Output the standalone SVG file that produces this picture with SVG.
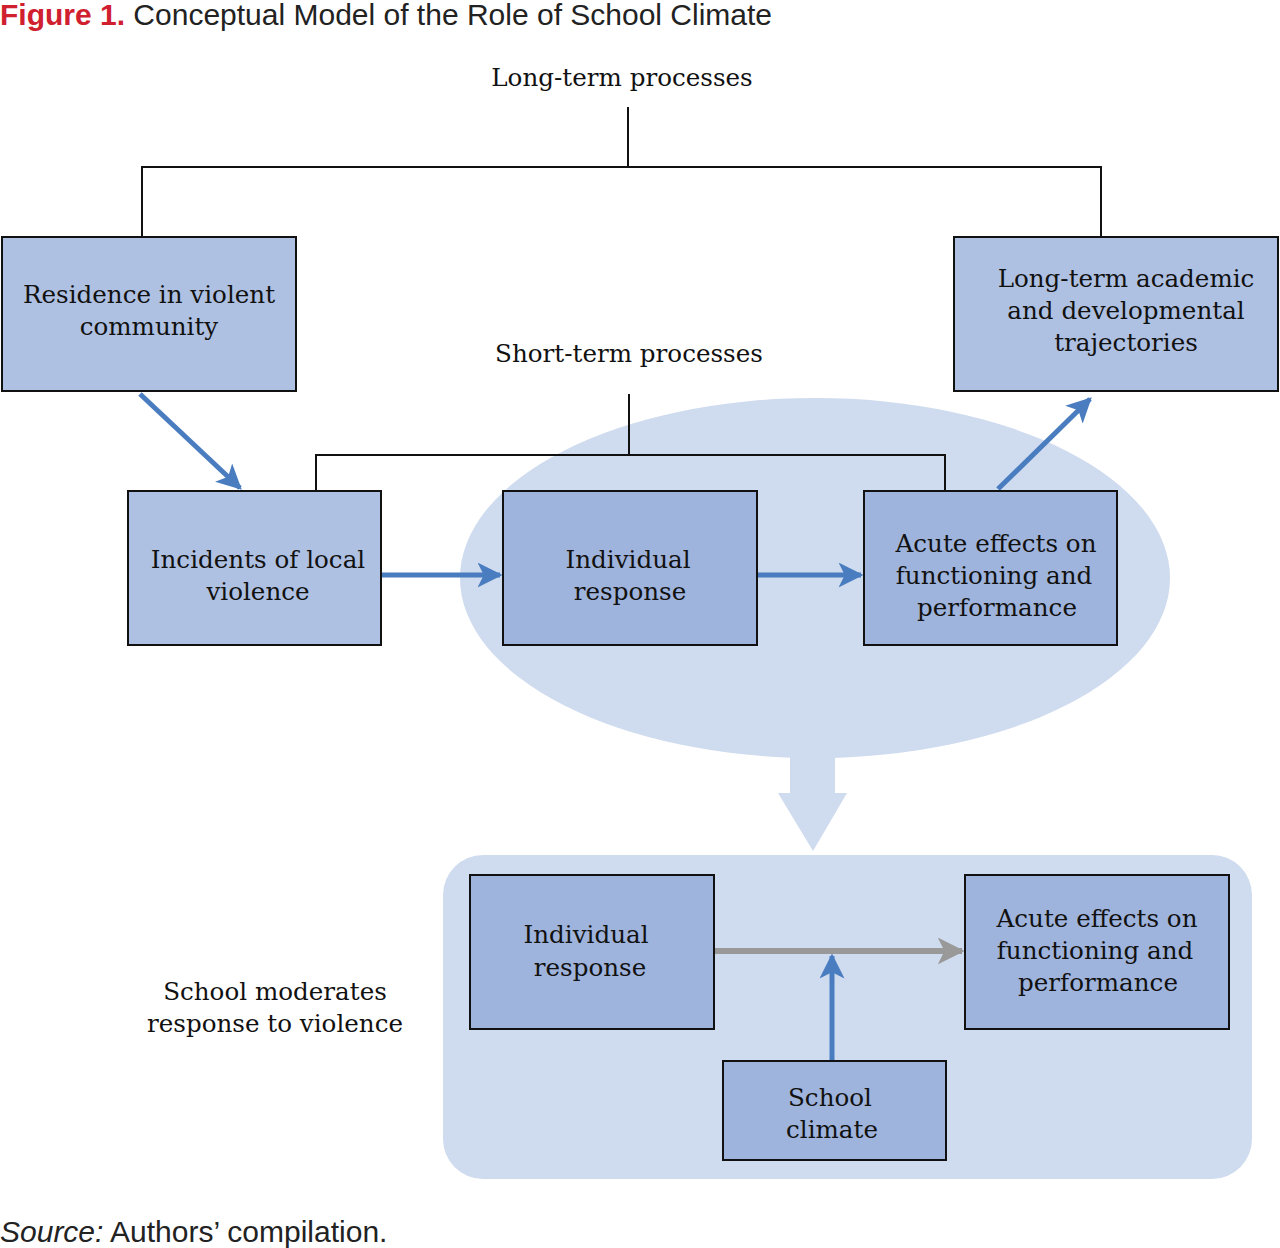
<svg xmlns="http://www.w3.org/2000/svg" width="1280" height="1248" viewBox="0 0 1280 1248">
<defs>
<style>
.t{font-family:"DejaVu Serif","Liberation Serif",serif;font-size:24.6px;fill:#111;text-anchor:middle}
.box1{fill:#AFC1E2;stroke:#111;stroke-width:2}
.box2{fill:#9FB4DC;stroke:#111;stroke-width:2}
.ln{fill:none;stroke:#111;stroke-width:2}
.ar{fill:none;stroke:#4A7DC0;stroke-width:5}
.bg{fill:#CFDBEE}
.cap{font-family:"Liberation Sans",Arial,sans-serif;font-size:30px}
</style>
<marker id="ab" viewBox="0 0 10 10" refX="9" refY="5" markerWidth="5" markerHeight="5" orient="auto" markerUnits="strokeWidth">
<path d="M0,0 L10,5 L0,10 L2.5,5 Z" fill="#4A7DC0"/>
</marker>
<marker id="ag" viewBox="0 0 10 10" refX="9" refY="5" markerWidth="4.5" markerHeight="4.5" orient="auto" markerUnits="strokeWidth">
<path d="M0,0 L10,5 L0,10 L2.5,5 Z" fill="#999"/>
</marker>
</defs>
<rect width="1280" height="1248" fill="#fff"/>
<text class="cap" x="0" y="25"><tspan fill="#D0202F" font-weight="bold">Figure 1.</tspan><tspan fill="#222"> Conceptual Model of the Role of School Climate</tspan></text>

<g id="backgrounds">
<ellipse class="bg" cx="815" cy="578" rx="355" ry="180"/>
<path class="bg" d="M790,756 H835 V793 H847 L813,851 L778,793 H790 Z"/>
<rect class="bg" x="443" y="855" width="809" height="324" rx="40"/>
</g>

<g id="labels">
<text class="t" x="622" y="86">Long-term processes</text>
<text class="t" x="629" y="362">Short-term processes</text>
<text class="t" x="275" y="1000">School moderates</text>
<text class="t" x="275" y="1032">response to violence</text>
</g>

<g id="connectors">
<path class="ln" d="M628,107 V167 M142,237 V167 H1101 V237"/>
<path class="ln" d="M629,394 V455 M316,491 V455 H945 V491"/>
<path class="ar" d="M140,394 L240,488" marker-end="url(#ab)"/>
<path class="ar" d="M382,575 L500,575" marker-end="url(#ab)"/>
<path class="ar" d="M758,575 L861,575" marker-end="url(#ab)"/>
<path class="ar" d="M998,489 L1090,399" marker-end="url(#ab)"/>
<path fill="none" stroke="#999" stroke-width="6" d="M715,951 L962,951" marker-end="url(#ag)"/>
<path class="ar" d="M832,1061 L832,956" marker-end="url(#ab)"/>
</g>

<g id="n-residence">
<rect class="box1" x="2" y="237" width="294" height="154"/>
<text class="t" x="149" y="303">Residence in violent</text>
<text class="t" x="149" y="335">community</text>
</g>
<g id="n-longterm">
<rect class="box1" x="954" y="237" width="324" height="154"/>
<text class="t" x="1126" y="287">Long-term academic</text>
<text class="t" x="1126" y="319">and developmental</text>
<text class="t" x="1126" y="351">trajectories</text>
</g>
<g id="n-incidents">
<rect class="box1" x="128" y="491" width="253" height="154"/>
<text class="t" x="258" y="568">Incidents of local</text>
<text class="t" x="258" y="600">violence</text>
</g>
<g id="n-individual">
<rect class="box2" x="503" y="491" width="254" height="154"/>
<text class="t" x="628" y="568">Individual</text>
<text class="t" x="630" y="600">response</text>
</g>
<g id="n-acute">
<rect class="box2" x="864" y="491" width="253" height="154"/>
<text class="t" x="996" y="552">Acute effects on</text>
<text class="t" x="994" y="584">functioning and</text>
<text class="t" x="997" y="616">performance</text>
</g>
<g id="n-individual2">
<rect class="box2" x="470" y="875" width="244" height="154"/>
<text class="t" x="586" y="943">Individual</text>
<text class="t" x="590" y="976">response</text>
</g>
<g id="n-acute2">
<rect class="box2" x="965" y="875" width="264" height="154"/>
<text class="t" x="1097" y="927">Acute effects on</text>
<text class="t" x="1095" y="959">functioning and</text>
<text class="t" x="1098" y="991">performance</text>
</g>
<g id="n-climate">
<rect class="box2" x="723" y="1061" width="223" height="99"/>
<text class="t" x="830" y="1106">School</text>
<text class="t" x="832" y="1138">climate</text>
</g>

<text class="cap" x="0" y="1242" fill="#222"><tspan font-style="italic">Source:</tspan> Authors’ compilation.</text>
</svg>
